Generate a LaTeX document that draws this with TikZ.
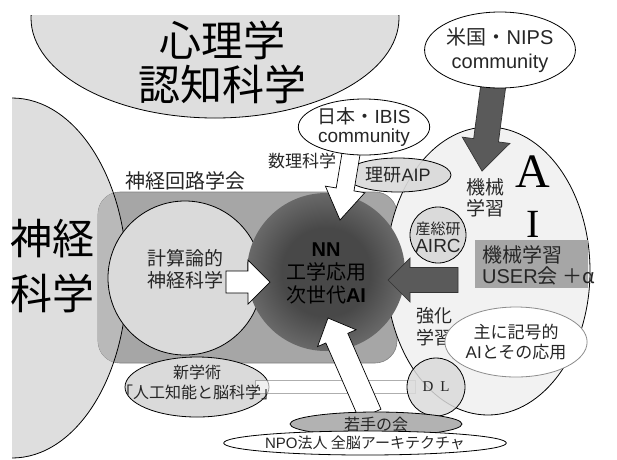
\documentclass[tikz,border=0pt]{standalone}
\usepackage{fontspec}
\setmainfont{Noto Sans CJK JP}
\newfontfamily\ar{Liberation Sans}
\newfontfamily\sr{Liberation Serif}
\usetikzlibrary{shapes.geometric,calc}
\definecolor{bg}{HTML}{DEDEDE}
\definecolor{lg}{HTML}{DADADA}
\definecolor{mg}{HTML}{A6A6A6}
\definecolor{rl}{HTML}{B9B9B9}
\definecolor{dg}{HTML}{5A5A5A}
\definecolor{aifill}{HTML}{F2F2F2}
\definecolor{tx}{HTML}{262626}
\definecolor{wk}{HTML}{B2B2B2}
\definecolor{nnA}{HTML}{484848}
\definecolor{nnB}{HTML}{8A8A8A}
\definecolor{nnC}{HTML}{AEAEAE}
\definecolor{nnD}{HTML}{BCBCBC}
\pgfdeclareradialshading{nnshade}{\pgfpoint{0bp}{0bp}}{color(0bp)=(nnA); color(14bp)=(nnA); color(36bp)=(nnB); color(43bp)=(nnC); color(50bp)=(nnD)}
\newcommand\blockarrow[6]{%
  \coordinate (ba-hb) at ($(#3)!#6!(#2)$);
  \path[#1] ($(#2)!#4!90:(#3)$) -- ($(ba-hb)!#4!90:(#3)$) -- ($(ba-hb)!#5!90:(#3)$) -- (#3)
    -- ($(ba-hb)!#5!-90:(#3)$) -- ($(ba-hb)!#4!-90:(#3)$) -- ($(#2)!#4!-90:(#3)$) -- cycle;
}
\tikzset{
  outl/.style={draw=black, line width=0.8pt},
  lbl/.style={text=tx, align=center, inner sep=0pt},
  blob/.style={ellipse, outl, inner sep=0pt, text=tx, align=center},
  disc/.style={circle, outl, inner sep=0pt, text=tx, align=center},
  whitearrow/.style={draw=black, line width=0.7pt, fill=white, line join=miter},
  darkarrow/.style={draw=black!80, line width=0.7pt, fill=dg, line join=miter},
  barstyle/.style={black!45, draw opacity=0.7, line width=0.6pt, fill=white, fill opacity=0.6},
}
\begin{document}
\begin{tikzpicture}[x=1pt,y=-1pt]
\useasboundingbox (0,0) rectangle (617,459);
% ---------- big background shapes
\begin{scope}
  \clip (0,15) rectangle (617,459);
  \draw[outl, fill=bg] (215,18) ellipse [x radius=184, y radius=100];
\end{scope}
\begin{scope}
  \clip (12,0) rectangle (617,459);
  \fill[bg] (12,278) ellipse [x radius=115, y radius=180];
\end{scope}
\draw[fill=mg, draw=black!50, line width=0.6pt, rounded corners=22pt] (98,192) rectangle (397,363);
\begin{scope}
  \clip (12,278) ellipse [x radius=115, y radius=180];
  \fill[rl, rounded corners=22pt] (98,192) rectangle (397,363);
\end{scope}
\begin{scope}
  \clip (12,0) rectangle (617,459);
  \draw[outl] (12,278) ellipse [x radius=115, y radius=180];
\end{scope}
\node[blob, fill=aifill, minimum width=204pt, minimum height=288pt] (ai) at (488,271) {};
\node[disc, fill=lg, minimum size=154pt] (comp) at (185,278) {};
\node[circle, inner sep=0pt, minimum size=158pt, shade, shading=nnshade] (nn) at (326,272) {};
% ---------- texts of big shapes
\node[lbl, text=black, font=\fontsize{42}{44}\selectfont] (psy) at (222,62) {心理学\\認知科学};
\node[lbl, text=black, font=\fontsize{42}{55}\selectfont] (neuro) at (52,266) {神経\\科学};
\node[lbl, font=\fontsize{20}{22}\selectfont] (jnns) at (185,181) {神経回路学会};
\node[lbl, font=\fontsize{19}{22}\selectfont] (compt) at (185,269) {計算論的\\神経科学};
\node[lbl, text=black, font=\fontsize{20}{23}\selectfont] (nnt) at (326,273) {{\ar\bfseries NN}\\工学応用\\次世代{\ar\bfseries AI}};
% ---------- lower nodes
\node[blob, fill=lg, minimum width=144pt, minimum height=60pt] (shin) at (197,387) {};
\coordinate (dlc) at (436,387);
\coordinate (barL) at ($(shin.center)+(58,-6.5)$);
\coordinate (barR) at ($(dlc)+(-21,6.5)$);
\path[barstyle, draw] (barL) rectangle (barR);
\node[disc, fill=lg, fill opacity=0.85, text opacity=1, minimum size=58pt] (dl) at (dlc) {\sr\fontsize{15}{15}\selectfont D\hspace{7pt}L};
\node[lbl, font=\fontsize{16}{20}\selectfont] (shint) at (197,382) {新学術\\「人工知能と脳科学」};
% ---------- upper nodes
\node[blob, fill=lg, fill opacity=0.92, text opacity=1, minimum width=106pt, minimum height=34pt, font=\fontsize{18}{18}\selectfont] (riken) at (398,175) {理研{\ar AIP}};
% ---------- block arrows
\coordinate (a1s) at (226,282); \coordinate (a1e) at (270,282);
\blockarrow{whitearrow}{a1s}{a1e}{11pt}{22pt}{22pt}
\coordinate (a2s) at (352,148); \coordinate (a2e) at (340,220);
\blockarrow{whitearrow}{a2s}{a2e}{9pt}{20pt}{31pt}
\coordinate (a3s) at (370,414); \coordinate (a3e) at (328,318);
\blockarrow{whitearrow}{a3s}{a3e}{12pt}{21pt}{22pt}
\coordinate (a4s) at (458,280); \coordinate (a4e) at (388,280);
\blockarrow{darkarrow}{a4s}{a4e}{12.5pt}{22pt}{22pt}
\coordinate (a5s) at (494,80); \coordinate (a5e) at (482,171);
\blockarrow{darkarrow}{a5s}{a5e}{12.5pt}{24pt}{31pt}
% ---------- ellipses over arrows
\node[blob, fill=white, minimum width=114pt, minimum height=56pt, font=\fontsize{19}{19}\selectfont] (ibis) at (364,127) {日本・{\ar IBIS}\\{\ar community}};
\node[blob, fill=white, minimum width=116pt, minimum height=76pt, font=\fontsize{20}{24}\selectfont] (nips) at (500,50) {米国・{\ar NIPS}\\{\ar community}};
\node[lbl, font=\fontsize{17}{17}\selectfont] (math) at (302,161) {数理科学};
\node[blob, fill=wk, minimum width=172pt, minimum height=24pt, font=\fontsize{16}{16}\selectfont] (young) at (376,424) {若手の会};
\node[blob, fill=white, minimum width=266pt, minimum height=24pt, font=\fontsize{15}{15}\selectfont] (npo) at (365,443) {{\ar NPO}法人 全脳アーキテクチャ};
% ---------- inside the AI ellipse
\node[lbl, text=black, font=\sr\fontsize{48}{48}\selectfont] (bigA) at (533,172) {A};
\node[lbl, text=black, font=\sr\fontsize{40}{40}\selectfont] (bigI) at (533,224) {I};
\node[lbl, font=\fontsize{19}{21}\selectfont] (ml) at (485,198) {機械\\学習};
\node[disc, fill=lg, minimum size=56pt] (airc) at (438,235) {};
\node[lbl, font=\fontsize{15}{18}\selectfont] (airct) at (438,237) {産総研\\{\ar\fontsize{19}{19}\selectfont AIRC}};
\node[rectangle, fill=mg, inner sep=0pt, minimum width=113pt, minimum height=48pt] (user) at (531.5,264) {};
\node[lbl, align=left, anchor=west, font=\fontsize{20}{21}\selectfont] (usert) at (482,265) {機械学習\\{\ar USER}会\hspace{5pt}＋α};
\node[lbl, font=\fontsize{18}{22}\selectfont] (rl) at (434,327) {強化\\学習};
\node[blob, fill=white, draw=black!45, minimum width=112pt, minimum height=70pt, font=\fontsize{17}{20}\selectfont] (sym) at (516,342) {主に記号的\\{\ar AI}とその応用};
\end{tikzpicture}
\end{document}
